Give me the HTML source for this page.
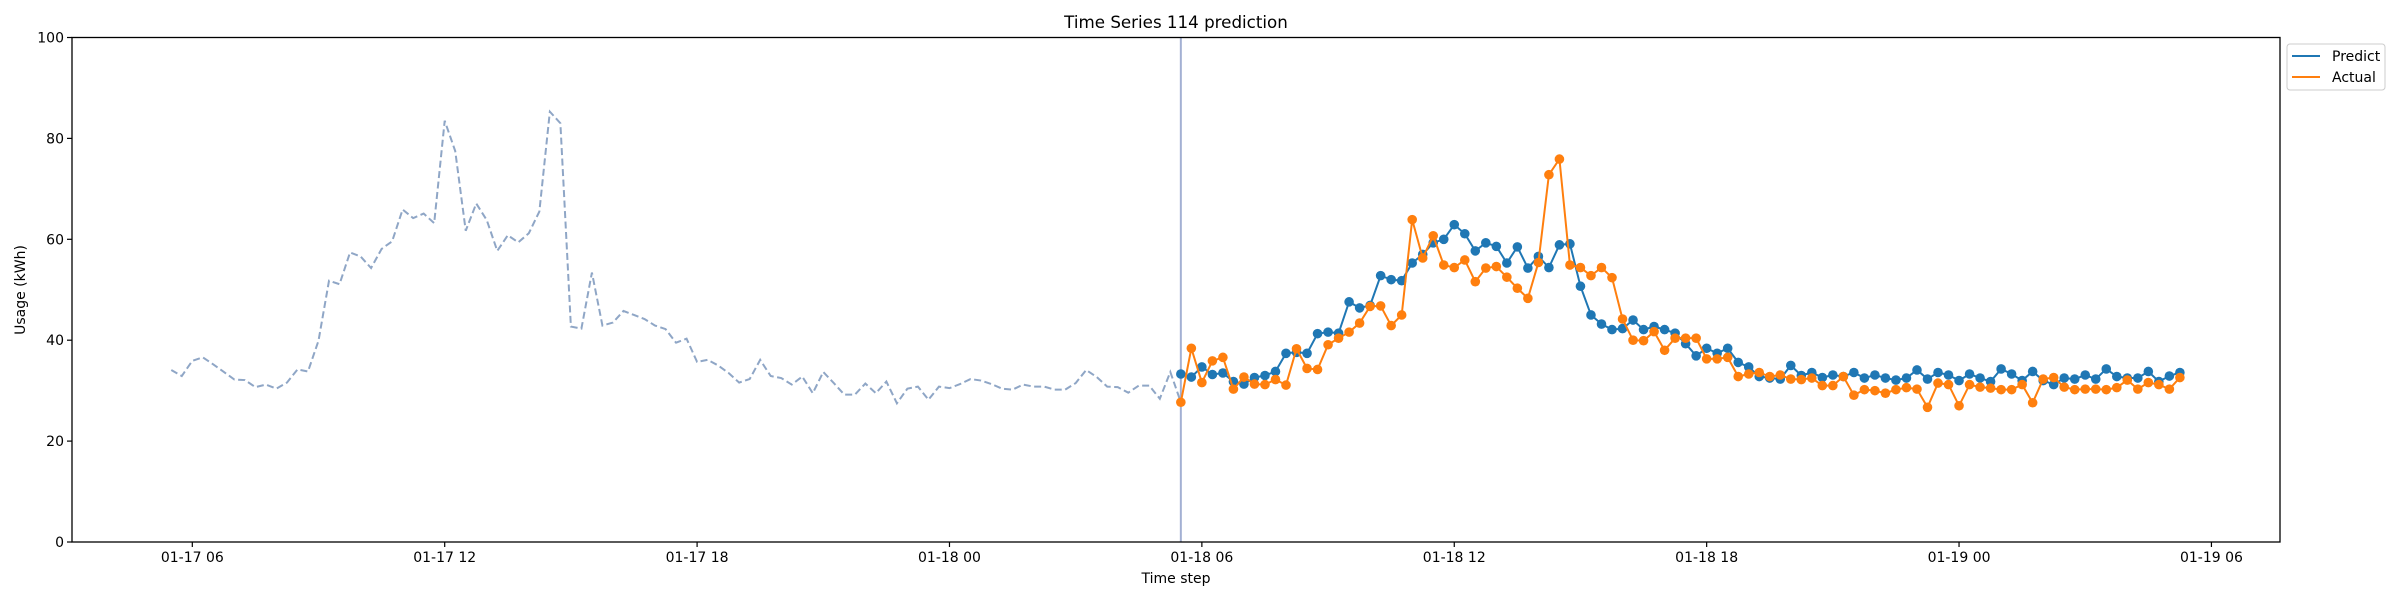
<!DOCTYPE html>
<html><head><meta charset="utf-8">
<style>
html,body{margin:0;padding:0;background:#fff;}
svg{display:block;font-family:"DejaVu Sans","Liberation Sans",sans-serif;}
</style></head>
<body>
<svg id="chart" width="2400" height="600" viewBox="0 0 2400 600" xmlns="http://www.w3.org/2000/svg">
<text x="1176" y="28" font-size="16.7" text-anchor="middle" fill="#000">Time Series 114 prediction</text>
<g id="plot"></g>
<text x="1176" y="583" font-size="14" text-anchor="middle">Time step</text>
<text transform="translate(25,290) rotate(-90)" font-size="14" text-anchor="middle">Usage (kWh)</text>
<g>
<rect x="2287" y="44" width="98" height="46" rx="3" fill="#fff" stroke="#ccc" stroke-width="1"/>
<line x1="2292" y1="56" x2="2320" y2="56" stroke="#1f77b4" stroke-width="2"/>
<text x="2332" y="61" font-size="14">Predict</text>
<line x1="2292" y1="77" x2="2320" y2="77" stroke="#ff7f0e" stroke-width="2"/>
<text x="2332" y="82" font-size="14">Actual</text>
</g>
</svg>
<script>
const historyValues = [34.1,32.9,35.9,36.6,35.2,33.7,32.2,32.1,30.7,31.2,30.4,31.6,34.2,33.8,39.9,51.8,51.1,57.4,56.6,54.3,58.1,59.6,65.9,64.2,65.1,63.2,83.5,77.5,61.7,67.1,63.8,57.7,60.8,59.4,61.2,65.5,85.3,83.0,42.7,42.3,53.4,42.9,43.5,45.8,45.0,44.2,42.9,42.2,39.5,40.3,35.7,36.1,35.0,33.5,31.6,32.3,36.1,32.9,32.5,31.2,
32.8,29.5,33.7,31.5,29.2,29.2,31.4,29.5,31.8,27.5,30.4,30.8,28.2,30.8,30.5,31.3,32.3,32.0,31.3,30.4,30.2,31.2,30.8,30.8,30.2,30.2,31.5,34.1,32.7,30.8,30.7,29.6,31.0,31.0,28.4,33.7];
const predictValues = [33.3,32.7,34.7,33.2,33.5,31.8,31.3,32.6,33.0,33.8,37.4,37.6,37.4,41.3,41.6,41.4,47.6,46.4,46.9,52.8,52.0,51.8,55.3,57.0,59.3,60.0,62.9,61.1,57.7,59.3,58.6,55.3,58.5,54.3,56.6,54.4,58.9,59.1,50.7,45.0,43.2,42.1,42.3,44.0,42.1,42.7,42.1,41.4,39.3,36.9,38.4,37.4,38.4,35.6,34.7,32.8,32.5,32.3,35.0,33.0,33.6,32.6,33.1,32.8,33.6,32.5,33.1,32.5,32.1,32.5,34.1,32.3,33.6,33.1,32.0,33.3,32.5,31.8,34.3,33.3,32.0,33.8,32.0,31.2,32.5,32.3,33.1,32.3,34.3,32.8,32.5,32.5,33.8,31.8,32.9,33.6];
const actualValues = [27.7,38.4,31.6,35.9,36.6,30.3,32.7,31.3,31.2,32.2,31.1,38.3,34.4,34.2,39.1,40.4,41.6,43.4,46.7,46.8,42.9,45.0,63.9,56.3,60.7,54.9,54.4,55.9,51.6,54.3,54.6,52.5,50.3,48.3,55.4,72.8,75.9,54.9,54.4,52.8,54.4,52.4,44.2,40.0,39.9,41.7,38.0,40.4,40.4,40.4,36.3,36.3,36.6,32.8,33.3,33.6,32.8,33.1,32.3,32.2,32.5,31.0,31.0,32.8,29.1,30.2,30.0,29.5,30.2,30.6,30.3,26.7,31.5,31.2,27.0,31.2,30.7,30.5,30.2,30.2,31.2,27.6,32.3,32.6,30.7,30.2,30.3,30.3,30.2,30.6,32.1,30.3,31.6,31.2,30.3,32.6];
const xTickHours = [6,12,18,24,30,36,42,48,54];
const xTickLabels = ["01-17 06","01-17 12","01-17 18","01-18 00","01-18 06","01-18 12","01-18 18","01-19 00","01-19 06"];
const yTicks = [0,20,40,60,80,100];
const historyStartHour = 5.5;
const predictStartHour = 29.5;
const stepHours = 0.25;

const L=72,R=2280,T=37.5,B=542;
const xMin=3.14,xMax=55.63;
const xs=h=>L+(h-xMin)/(xMax-xMin)*(R-L);
const ys=v=>B-(v/100)*(B-T);
const NS="http://www.w3.org/2000/svg";
const plot=document.getElementById('plot');
function mk(tag,attrs,parent){const e=document.createElementNS(NS,tag);for(const k in attrs)e.setAttribute(k,attrs[k]);(parent||plot).appendChild(e);return e;}

const hist=historyValues.concat([actualValues[0]]);
const hp=mk('polyline',{points:hist.map((v,i)=>xs(historyStartHour+i*stepHours)+','+ys(v)).join(' '),fill:'none',stroke:'#8fa6c6','stroke-width':2,'stroke-dasharray':'7,3.5'});



const vl=mk('line',{x1:xs(predictStartHour),x2:xs(predictStartHour),y1:T,y2:B,stroke:'#a3b0d3','stroke-width':2});



function series(vals,color,name){
  const pts=vals.map((v,i)=>[xs(predictStartHour+i*stepHours),ys(v)]);
  const pl=mk('polyline',{points:pts.map(p=>p.join(',')).join(' '),fill:'none',stroke:color,'stroke-width':2});
  
  
  pts.forEach(p=>{
    const c=mk('circle',{cx:p[0],cy:p[1],r:4.8,fill:color});
    
    
  });
}
series(predictValues,'#1f77b4','predict');
series(actualValues,'#ff7f0e','actual');

const fr=mk('rect',{x:L,y:T,width:R-L,height:B-T,fill:'none',stroke:'#000','stroke-width':1.3});



xTickHours.forEach((h,i)=>{
  const x=xs(h);
  mk('line',{x1:x,x2:x,y1:B,y2:B+5,stroke:'#000','stroke-width':1.2});
  const t=mk('text',{x:x,y:562,'font-size':14,'text-anchor':'middle'});
  t.textContent=xTickLabels[i];
  
  
});
yTicks.forEach(v=>{
  const y=ys(v);
  mk('line',{x1:L-5,x2:L,y1:y,y2:y,stroke:'#000','stroke-width':1.2});
  const t=mk('text',{x:L-8,y:y+5,'font-size':14,'text-anchor':'end'});
  t.textContent=String(v);
  
  
});
</script>
</body></html>
